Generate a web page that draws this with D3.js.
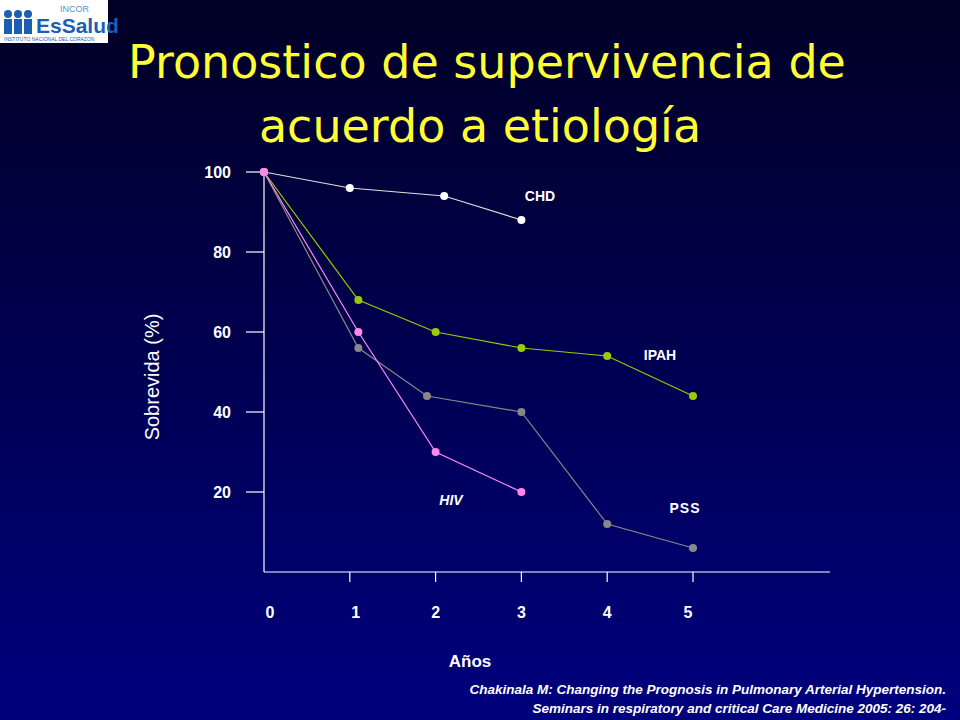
<!DOCTYPE html>
<html><head><meta charset="utf-8">
<script src="https://cdn.jsdelivr.net/npm/d3@7"></script>
<style>body{margin:0;background:#000;}</style>
</head><body>
<div id="chart"></div>
<script>
// Data
const SERIES_NAMES = ["CHD", "IPAH", "PSS", "HIV"];
const CHD_X = [0, 1.0, 2.1, 3]; const CHD_Y = [100, 96, 94, 88];
const IPAH_X = [0, 1.1, 2, 3, 4, 5]; const IPAH_Y = [100, 68, 60, 56, 54, 44];
const PSS_X = [0, 1.1, 1.9, 3, 4, 5]; const PSS_Y = [100, 56, 44, 40, 12, 6];
const HIV_X = [0, 1.1, 2, 3]; const HIV_Y = [100, 60, 30, 20];
const X_TICKS = [0, 1, 2, 3, 4, 5];
const Y_TICKS = [20, 40, 60, 80, 100];

const svg = d3.select("#chart").append("svg").attr("width", 960).attr("height", 720);
const grad = svg.append("defs").append("linearGradient").attr("id", "bg")
  .attr("x1", 0).attr("y1", 0).attr("x2", 0).attr("y2", 1);
grad.append("stop").attr("offset", "0%").attr("stop-color", "#000025");
grad.append("stop").attr("offset", "100%").attr("stop-color", "#00007e");
svg.append("rect").attr("width", 960).attr("height", 720).attr("fill", "url(#bg)");

// Logo
svg.append("rect").attr("width", 108).attr("height", 43).attr("fill", "#fff");
svg.append("text").attr("x", 60).attr("y", 12).attr("font-family", "Liberation Sans, Arial")
  .attr("font-size", 9).attr("fill", "#5a8fd0").text("INCOR");
svg.append("text").attr("x", 36).attr("y", 33).attr("font-family", "Liberation Sans, Arial")
  .attr("font-weight", "bold").attr("font-size", 21).attr("fill", "#1a5fb4").text("EsSalud");
svg.append("text").attr("x", 4).attr("y", 41).attr("font-family", "Liberation Sans, Arial")
  .attr("font-size", 5).attr("fill", "#1a5fb4").text("INSTITUTO NACIONAL DEL CORAZON");
svg.selectAll(".fig").data([8, 18, 28]).enter().append("circle")
  .attr("cx", d => d).attr("cy", 14).attr("r", 4).attr("fill", "#1a5fb4");
svg.selectAll(".body").data([8, 18, 28]).enter().append("rect")
  .attr("x", d => d - 4).attr("y", 19).attr("width", 8).attr("height", 15).attr("fill", "#1a5fb4");

// Title
const title = svg.append("text").attr("text-anchor", "middle").attr("fill", "#ffff33")
  .attr("font-family", "DejaVu Sans").attr("font-size", 46);
title.append("tspan").attr("x", 487).attr("y", 78).text("Pronostico de supervivencia de");
title.append("tspan").attr("x", 480).attr("y", 142).text("acuerdo a  etiología");

const x = d3.scaleLinear().domain([0, 5]).range([264, 693]);
const y = d3.scaleLinear().domain([0, 100]).range([572, 172]);

const axisG = svg.append("g").attr("stroke", "#fff").attr("stroke-width", 1.2);
axisG.append("line").attr("x1", 264).attr("x2", 830).attr("y1", y(0)).attr("y2", y(0));
axisG.append("line").attr("x1", 264).attr("x2", 264).attr("y1", y(0)).attr("y2", y(100));
axisG.selectAll(".yt").data(Y_TICKS).enter().append("line")
  .attr("x1", 246).attr("x2", 264).attr("y1", d => y(d)).attr("y2", d => y(d));
axisG.selectAll(".xt").data(X_TICKS.slice(1)).enter().append("line")
  .attr("x1", d => x(d)).attr("x2", d => x(d)).attr("y1", y(0)).attr("y2", y(0) + 10);

const lab = { "font-family": "Liberation Sans, Arial", "font-weight": "bold", "font-size": 16, fill: "#fff" };
function style(sel, o) { Object.entries(o).forEach(([k, v]) => sel.attr(k, v)); return sel; }
style(svg.selectAll(".yl").data(Y_TICKS).enter().append("text"), lab)
  .attr("x", 231).attr("y", d => y(d) + 6).attr("text-anchor", "end").text(d => d);
style(svg.selectAll(".xl").data(X_TICKS).enter().append("text"), lab)
  .attr("x", d => x(d) + (d === 0 ? 6 : d === 5 ? -5 : d === 1 ? 6 : 0)).attr("y", 618)
  .attr("text-anchor", "middle").text(d => d);

style(svg.append("text"), lab).attr("x", 470).attr("y", 667).attr("text-anchor", "middle")
  .attr("font-size", 17).text("Años");
svg.append("text").attr("transform", "translate(159,377) rotate(-90)").attr("text-anchor", "middle")
  .attr("font-family", "Liberation Sans, Arial").attr("font-size", 20).attr("fill", "#fff")
  .text("Sobrevida (%)");

// Series
const series = [
  { xs: CHD_X, ys: CHD_Y, color: "#ffffff", line: "#e0e0e0" },
  { xs: IPAH_X, ys: IPAH_Y, color: "#99cc00", line: "#99cc00" },
  { xs: PSS_X, ys: PSS_Y, color: "#888888", line: "#888888" },
  { xs: HIV_X, ys: HIV_Y, color: "#ff88ee", line: "#ff88ee" }
];
const line = d3.line().x(d => x(d[0])).y(d => y(d[1]));
series.forEach(s => {
  const pts = s.xs.map((v, i) => [v, s.ys[i]]);
  svg.append("path").attr("d", line(pts)).attr("fill", "none").attr("stroke", s.line).attr("stroke-width", 1.2);
  svg.selectAll(null).data(pts).enter().append("circle")
    .attr("cx", d => x(d[0])).attr("cy", d => y(d[1])).attr("r", 4).attr("fill", s.color);
});

// Series labels
const LABEL_POS = [[540, 201, "normal"], [660, 360, "normal"], [685, 513, "normal"], [451, 505, "italic"]];
SERIES_NAMES.forEach((n, i) => {
  style(svg.append("text"), lab).attr("font-size", 14).attr("x", LABEL_POS[i][0]).attr("y", LABEL_POS[i][1])
    .attr("text-anchor", "middle").attr("font-style", LABEL_POS[i][2])
    .attr("letter-spacing", n === "PSS" ? 1 : 0).text(n);
});

// Source
const src = svg.append("text").attr("text-anchor", "end").attr("fill", "#fff")
  .attr("font-family", "Liberation Sans, Arial").attr("font-weight", "bold").attr("font-style", "italic").attr("font-size", 13.5);
src.append("tspan").attr("x", 946).attr("y", 694).text("Chakinala M: Changing the Prognosis in Pulmonary Arterial Hypertension.");
src.append("tspan").attr("x", 946).attr("y", 713).text("Seminars in respiratory and critical Care Medicine 2005: 26: 204-");
</script>
</body></html>
